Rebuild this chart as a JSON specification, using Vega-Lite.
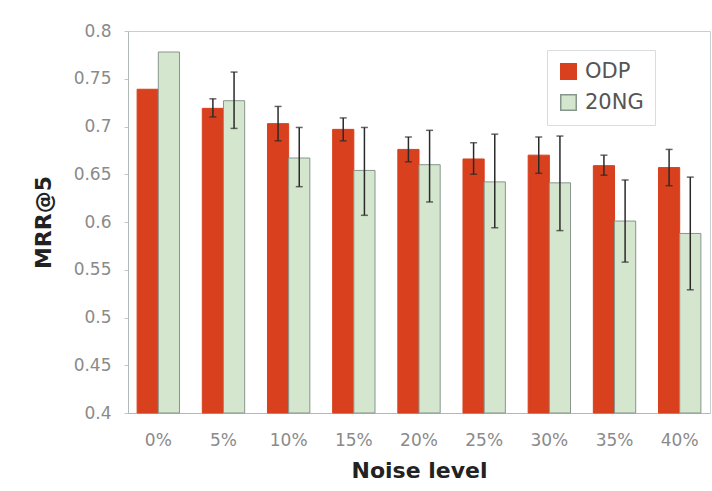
{
  "$schema": "https://vega.github.io/schema/vega-lite/v6.json",
  "autosize": "none",
  "width": 582,
  "height": 382,
  "padding": {"left": 128, "top": 31, "right": 2, "bottom": 78},
  "background": "white",
  "config": {
    "font": "DejaVu Sans",
    "view": {"stroke": "#c8cfd0", "strokeWidth": 1}
  },
  "data": {
    "values": [
      {"level": "0%", "series": "ODP", "value": 0.739, "lo": null, "hi": null},
      {"level": "0%", "series": "20NG", "value": 0.778, "lo": null, "hi": null},
      {"level": "5%", "series": "ODP", "value": 0.719, "lo": 0.710, "hi": 0.729},
      {"level": "5%", "series": "20NG", "value": 0.727, "lo": 0.698, "hi": 0.757},
      {"level": "10%", "series": "ODP", "value": 0.703, "lo": 0.685, "hi": 0.721},
      {"level": "10%", "series": "20NG", "value": 0.667, "lo": 0.637, "hi": 0.699},
      {"level": "15%", "series": "ODP", "value": 0.697, "lo": 0.685, "hi": 0.709},
      {"level": "15%", "series": "20NG", "value": 0.654, "lo": 0.607, "hi": 0.699},
      {"level": "20%", "series": "ODP", "value": 0.676, "lo": 0.663, "hi": 0.689},
      {"level": "20%", "series": "20NG", "value": 0.660, "lo": 0.621, "hi": 0.696},
      {"level": "25%", "series": "ODP", "value": 0.666, "lo": 0.650, "hi": 0.683},
      {"level": "25%", "series": "20NG", "value": 0.642, "lo": 0.594, "hi": 0.692},
      {"level": "30%", "series": "ODP", "value": 0.670, "lo": 0.651, "hi": 0.689},
      {"level": "30%", "series": "20NG", "value": 0.641, "lo": 0.591, "hi": 0.690},
      {"level": "35%", "series": "ODP", "value": 0.659, "lo": 0.649, "hi": 0.670},
      {"level": "35%", "series": "20NG", "value": 0.601, "lo": 0.558, "hi": 0.644},
      {"level": "40%", "series": "ODP", "value": 0.657, "lo": 0.638, "hi": 0.676},
      {"level": "40%", "series": "20NG", "value": 0.588, "lo": 0.529, "hi": 0.647}
    ]
  },
  "encoding": {
    "x": {
      "field": "level",
      "type": "nominal",
      "sort": ["0%", "5%", "10%", "15%", "20%", "25%", "30%", "35%", "40%"],
      "scale": {"paddingInner": 0.35, "paddingOuter": 0.14},
      "axis": {
        "title": "Noise level",
        "labelAngle": 0,
        "labelFontSize": 17,
        "labelColor": "#8a8a8a",
        "labelPadding": 19,
        "ticks": false,
        "domainColor": "#b0b8b8",
        "titleFontSize": 22,
        "titleFontWeight": "bold",
        "titleColor": "#222",
        "titleY": 57,
        "titleBaseline": "middle"
      }
    },
    "xOffset": {"field": "series", "type": "nominal", "sort": ["ODP", "20NG"]}
  },
  "layer": [
    {
      "mark": {"type": "bar", "strokeWidth": 1},
      "encoding": {
        "y": {
          "field": "value",
          "type": "quantitative",
          "scale": {"domain": [0.4, 0.8], "zero": false, "nice": false},
          "axis": {
            "title": "MRR@5",
            "values": [0.4, 0.45, 0.5, 0.55, 0.6, 0.65, 0.7, 0.75, 0.8],
            "format": ".2~f",
            "grid": false,
            "labelFontSize": 17,
            "labelColor": "#8a8a8a",
            "labelPadding": 13,
            "tickSize": 4,
            "tickColor": "#c0c8c8",
            "domainColor": "#b0b8b8",
            "titleFontSize": 22,
            "titleFontWeight": "bold",
            "titleColor": "#222",
            "titleX": -85,
            "titleAngle": -90,
            "titleBaseline": "middle",
            "titleAlign": "center"
          }
        },
        "y2": {"datum": 0.4},
        "fill": {
          "field": "series",
          "type": "nominal",
          "scale": {"domain": ["ODP", "20NG"], "range": ["#d8401e", "#d5e6cf"]},
          "legend": {
            "title": null,
            "orient": "none",
            "legendX": 419,
            "legendY": 19,
            "symbolType": "square",
            "symbolSize": 240,
            "labelFontSize": 21,
            "labelColor": "#555",
            "strokeColor": "#d8dcdc",
            "padding": 11,
            "rowPadding": 8,
            "labelOffset": 6
          }
        },
        "stroke": {
          "field": "series",
          "type": "nominal",
          "scale": {"domain": ["ODP", "20NG"], "range": ["#d8401e", "#86968c"]},
          "legend": null
        }
      }
    },
    {
      "mark": {"type": "rule", "color": "#2a2a2a", "strokeWidth": 1.5},
      "encoding": {
        "y": {"field": "lo", "type": "quantitative"},
        "y2": {"field": "hi"}
      }
    },
    {
      "mark": {"type": "tick", "color": "#2a2a2a", "orient": "horizontal", "size": 7, "thickness": 1.5},
      "encoding": {
        "y": {"field": "hi", "type": "quantitative"}
      }
    },
    {
      "mark": {"type": "tick", "color": "#2a2a2a", "orient": "horizontal", "size": 7, "thickness": 1.5},
      "encoding": {
        "y": {"field": "lo", "type": "quantitative"}
      }
    }
  ]
}
